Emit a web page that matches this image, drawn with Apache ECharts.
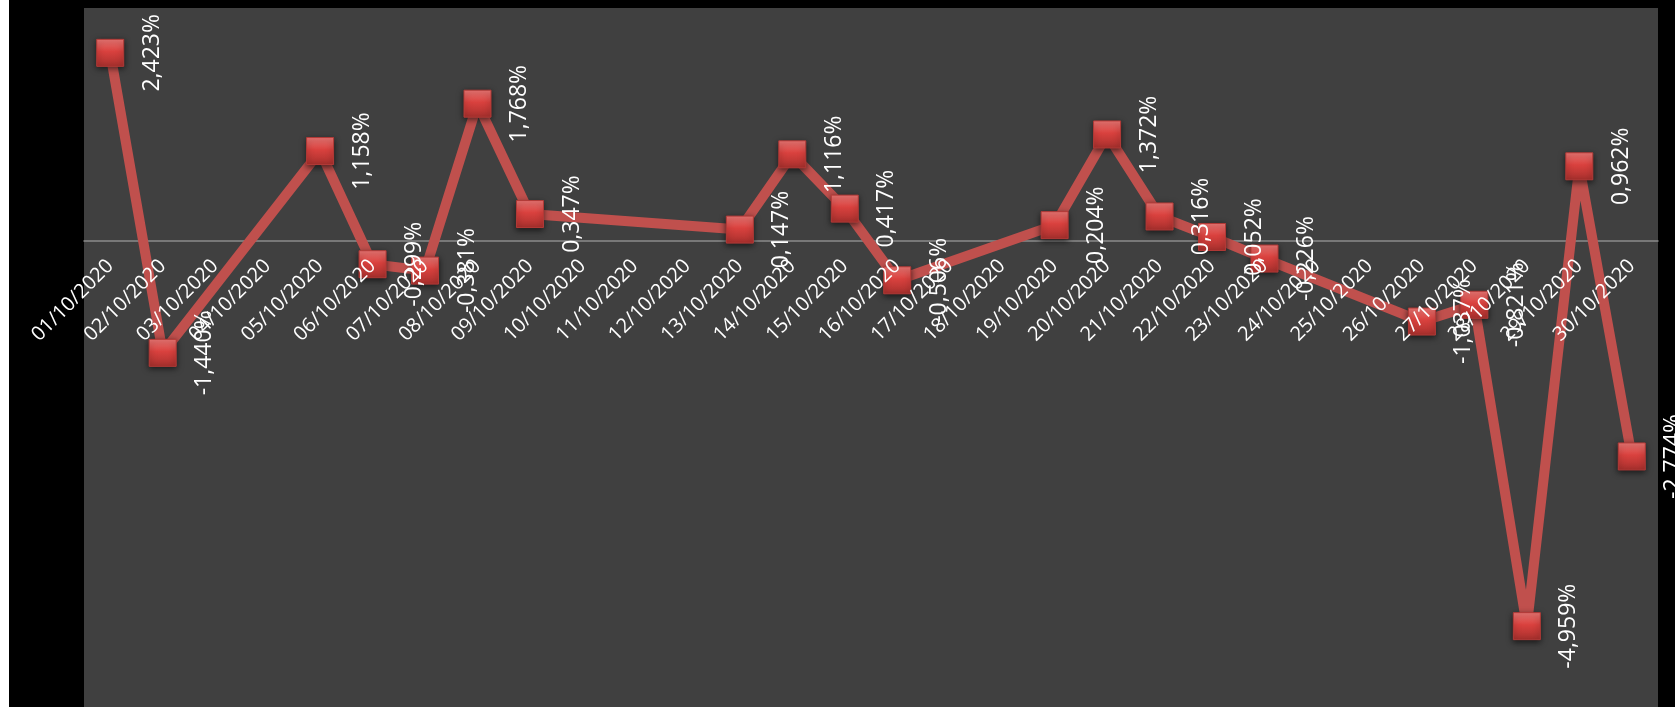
<!DOCTYPE html>
<html lang="pt">
<head>
    <meta charset="UTF-8">
    <title>Variação diária - Outubro 2020</title>
    <script src="https://cdn.jsdelivr.net/npm/echarts@6/dist/echarts.min.js"></script>
    <style>
        html, body {
            margin: 0;
            padding: 0;
            background: #ffffff;
            width: 1675px;
            height: 707px;
            overflow: hidden;
        }

        #chart {
            position: absolute;
            left: 9px;
            top: 0;
            width: 1666px;
            height: 707px;
            background: #000000;
        }
    </style>
</head>
<body>
    <div id="chart"></div>

    <script>
        // datas do mês (dias sem pregão ficam vazios)
        const dates = [
            '01/10/2020', '02/10/2020', '03/10/2020', '04/10/2020', '05/10/2020',
            '06/10/2020', '07/10/2020', '08/10/2020', '09/10/2020', '10/10/2020',
            '11/10/2020', '12/10/2020', '13/10/2020', '14/10/2020', '15/10/2020',
            '16/10/2020', '17/10/2020', '18/10/2020', '19/10/2020', '20/10/2020',
            '21/10/2020', '22/10/2020', '23/10/2020', '24/10/2020', '25/10/2020',
            '26/10/2020', '27/10/2020', '28/10/2020', '29/10/2020', '30/10/2020'
        ];

        // variação diária em %
        const variation = [
            2.423, -1.440, null, null, 1.158,
            -0.299, -0.381, 1.768, 0.347, null,
            null, null, 0.147, 1.116, 0.417,
            -0.506, null, null, 0.204, 1.372,
            0.316, 0.052, -0.226, null, null,
            -1.037, -0.821, -4.959, 0.962, -2.774
        ];

        const yMin = -6;
        const yMax = 3;

        const gridTop = 8;
        const gridHeight = 707 - gridTop;
        // distância do zero até a borda de baixo, para levar os rótulos até a linha do zero
        const zeroOffset = gridHeight * (0 - yMin) / (yMax - yMin);

        function formatPct(v) {
            return v.toFixed(3).replace('.', ',') + '%';
        }

        const chart = echarts.init(document.getElementById('chart'));

        const option = {
            backgroundColor: '#000000',
            animation: false,
            grid: {
                left: 75,
                right: 17,
                top: gridTop,
                bottom: 0,
                outerBoundsMode: 'none',
                containLabel: false,
                show: true,
                backgroundColor: '#404040',
                borderWidth: 0
            },
            xAxis: [{
                type: 'category',
                data: dates,
                boundaryGap: true,
                axisLine: {
                    onZero: true,
                    lineStyle: { color: '#8a8a8a', width: 1.5 }
                },
                axisTick: { show: false },
                axisLabel: { show: false },
                splitLine: { show: false }
            }, {
                // só os rótulos, desenhados por cima da linha
                type: 'category',
                data: dates,
                position: 'bottom',
                offset: -zeroOffset,
                z: 10,
                boundaryGap: true,
                axisLine: { show: false, onZero: false },
                axisTick: { show: false },
                axisLabel: {
                    interval: 0,
                    rotate: 45,
                    margin: 22,
                    color: '#ffffff',
                    fontFamily: 'Open Sans',
                    fontSize: 20
                },
                splitLine: { show: false }
            }],
            yAxis: {
                type: 'value',
                min: yMin,
                max: yMax,
                show: false,
                splitLine: { show: false }
            },
            series: [{
                type: 'line',
                data: variation,
                connectNulls: true,
                symbol: 'rect',
                symbolSize: 27,
                lineStyle: {
                    color: '#c0504d',
                    width: 10
                },
                itemStyle: {
                    color: {
                        type: 'linear',
                        x: 0, y: 0, x2: 0, y2: 1,
                        colorStops: [
                            { offset: 0, color: '#f07a77' },
                            { offset: 0.45, color: '#d9413e' },
                            { offset: 1, color: '#a8302d' }
                        ]
                    },
                    borderColor: '#b33a37',
                    borderWidth: 1,
                    shadowColor: 'rgba(0, 0, 0, 0.6)',
                    shadowBlur: 6,
                    shadowOffsetY: 2
                },
                label: {
                    show: true,
                    position: 'right',
                    distance: 28,
                    rotate: 90,
                    align: 'center',
                    verticalAlign: 'middle',
                    color: '#ffffff',
                    fontFamily: 'Open Sans',
                    fontSize: 23,
                    formatter: p => formatPct(p.value)
                },
                labelLayout: { hideOverlap: false }
            }]
        };

        chart.setOption(option);
    </script>
</body>
</html>
